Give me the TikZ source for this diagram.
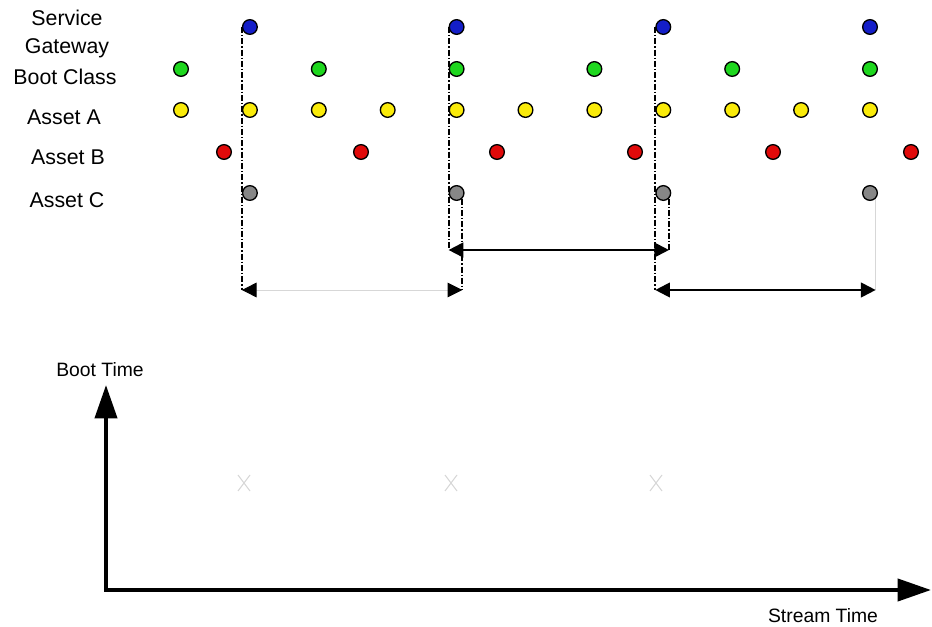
\documentclass[tikz,border=0pt]{standalone}
\usepackage{fontspec}
\setmainfont{Liberation Sans}
\usetikzlibrary{arrows.meta}
\definecolor{gwblue}{RGB}{20,30,200}
\definecolor{bootgreen}{RGB}{30,215,30}
\definecolor{assetyellow}{RGB}{250,235,10}
\definecolor{assetred}{RGB}{225,10,10}
\definecolor{assetgray}{RGB}{135,135,135}
\definecolor{faint}{RGB}{215,215,215}
\tikzset{
  >={Triangle[length=11pt,width=11pt,color=black]},
  dot/.style={circle,draw=black,line width=1pt,fill=#1,minimum size=11pt,inner sep=0pt},
  dot/.default=assetgray,
  lab/.style={font=\fontsize{16}{21}\selectfont,align=center},
  axlab/.style={font=\fontsize{14.5}{17}\selectfont},
  guide/.style={draw=black,line width=1.4pt,dash pattern=on 4.5pt off 1.5pt on 1pt off 1.5pt},
  span/.style={<->,draw=#1,line width=1.5pt},
  span/.default=black,
  axis/.style={{Triangle[length=25pt,width=16.5pt]}-{Triangle[length=25pt,width=16.5pt]},
    line width=3pt,line join=miter},
}
\begin{document}
\begin{tikzpicture}[x=0.75pt,y=-0.75pt]
  \useasboundingbox (0,0) rectangle (932,627);
  % row labels
  \node[lab] (sglab) at (67,34) {Service\\Gateway};
  \node[lab] (bclab) at (65,77) {Boot Class};
  \node[lab] (aalab) at (64,117) {Asset A};
  \node[lab] (ablab) at (68,157) {Asset B};
  \node[lab] (aclab) at (67,200) {Asset C};
  % packets in the stream
  \foreach \k in {1,4,7,10} \node[dot=gwblue] (sg\k) at ({181+68.9*\k},27) {};
  \foreach \k in {0,2,...,10} \node[dot=bootgreen] (bc\k) at ({181+68.9*\k},69) {};
  \foreach \k in {0,...,10} \node[dot=assetyellow] (aa\k) at ({181+68.9*\k},110) {};
  \foreach \x [count=\i] in {224,361,497,635,773,911} \node[dot=assetred] (ab\i) at (\x,152) {};
  \foreach \k in {1,4,7,10} \node[dot] (ac\k) at ({181+68.9*\k},193) {};
  % boot intervals
  \coordinate (low) at (0,290);
  \coordinate (high) at (0,250);
  \draw[guide] (sg1.west) -- (sg1.west |- low) coordinate (s1l);
  \draw[guide] (ac4.south east) -- (ac4.south east |- low) coordinate (s1r);
  \draw[span=faint,line width=0.7pt] (s1l) -- (s1r);
  \draw[guide] (sg4.west) -- (sg4.west |- high) coordinate (s2l);
  \draw[guide] (ac7.south east) -- (ac7.south east |- high) coordinate (s2r);
  \draw[span] (s2l) -- (s2r);
  \draw[guide] (sg7.west) -- (sg7.west |- low) coordinate (s3l);
  \draw[faint,thin] (ac10.south east) -- (ac10.south east |- low) coordinate (s3r);
  \draw[span] (s3l) -- (s3r);
  % boot time vs stream time
  \coordinate (origin) at (106,590);
  \coordinate (ytop) at (106,385);
  \coordinate (xend) at (931,590);
  \draw[axis] (ytop) -- (origin) -- (xend);
  \node[axlab] (ylab) at (100,370) {Boot Time};
  \node[axlab] (xlab) at (823,616) {Stream Time};
  \foreach \x in {244,451,656}
    \draw[faint,line width=0.8pt] (\x-6,475) -- (\x+6,491) (\x+6,475) -- (\x-6,491);
\end{tikzpicture}
\end{document}
